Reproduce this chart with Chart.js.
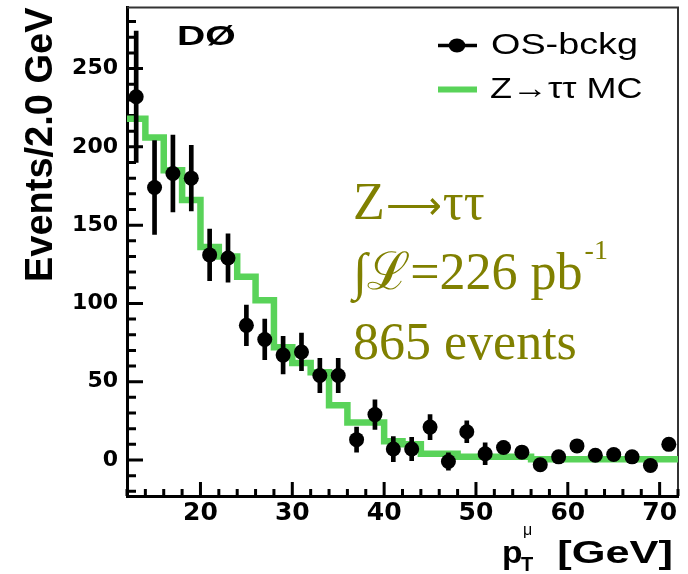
<!DOCTYPE html>
<html>
<head>
<meta charset="utf-8">
<title>Z to tau tau - OS-bckg muon pT</title>
<script src="https://cdn.jsdelivr.net/npm/chart.js@4.4.1/dist/chart.umd.min.js"></script>
<style>
    html, body { margin: 0; padding: 0; background: #fff; }
    #wrap { width: 688px; height: 574px; }
</style>
</head>
<body>
<div id="wrap"><canvas id="plot"></canvas></div>
<script>
"use strict";

// histogram bin edges (2 GeV bins) and bin centres of the data points
var binEdges   = [12, 14, 16, 18, 20, 22, 24, 26, 28, 30, 32, 34, 36, 38, 40, 42,
                  44, 46, 48, 50, 52, 54, 56, 58, 60, 62, 64, 66, 68, 70, 72];
var binCentres = [13, 15, 17, 19, 21, 23, 25, 27, 29, 31, 33, 35, 37, 39, 41, 43,
                  45, 47, 49, 51, 53, 55, 57, 59, 61, 63, 65, 67, 69, 71];

// OS minus background, with its errors
var osBckg    = [232, 174, 183, 180, 131, 129, 86, 77, 67, 69, 54, 54, 13, 29, 7, 7,
                 21, -1, 18, 4, 8, 5, -3, 2, 9, 3, 3.5, 2, -3.5, 10];
var osBckgErr = [42, 30, 24.5, 21, 16.5, 15.5, 13, 13, 12, 12, 11, 11, 8, 9.5, 8, 7.5,
                 8, 5.5, 7, 7, 4, 4, 3, 3, 3, 3, 3, 3, 3, 3];

// Z -> tau tau Monte Carlo, one value per bin
var zTauTauMC = [218, 206, 185, 166, 136, 130, 117, 102, 72, 62, 56, 35, 24, 24, 12, 10,
                 4, 4, 2, 2, 2, 2, 0.5, 0.5, 0.5, 0.5, 0.5, 0.5, 0.5, 0.5];

// axis ticks
var xRange = [12, 72], xMinorStep = 2, xLabelStep = 10;
var yRange = [-23, 289], yMinorStep = 10, yLabelStep = 50;

var GREEN = "#59d359";
var OLIVE = "#808000";
var SANS  = '"Liberation Sans", Arial, sans-serif';
var SERIF = '"Liberation Serif", "Times New Roman", serif';


// text stretched along x only
function wideText(ctx, text, x, y, sx, align) {
    ctx.save();
    ctx.translate(x, y);
    ctx.scale(sx, 1);
    ctx.textAlign = align || "left";
    ctx.fillText(text, 0, 0);
    ctx.restore();
}


// thin top/right frame and inward tick marks
var frameTicks = {
    id: "frameTicks",
    beforeDatasetsDraw: function(chart) {
        var ctx = chart.ctx, a = chart.chartArea, sx = chart.scales.x, sy = chart.scales.y;
        ctx.save();
        ctx.strokeStyle = "#333";
        ctx.lineWidth = 2;
        ctx.beginPath();
        ctx.moveTo(a.left, a.top);
        ctx.lineTo(a.right, a.top);
        ctx.lineTo(a.right, a.bottom);
        ctx.stroke();

        ctx.strokeStyle = "#000";
        ctx.lineWidth = 3;
        ctx.beginPath();
        sy.ticks.forEach(function(t) {
            var y = sy.getPixelForValue(t.value);
            ctx.moveTo(a.left, y);
            ctx.lineTo(a.left + (t.value % yLabelStep === 0 ? 16 : 9), y);
        });
        sx.ticks.forEach(function(t) {
            var x = sx.getPixelForValue(t.value);
            ctx.moveTo(x, a.bottom);
            ctx.lineTo(x, a.bottom - (t.value % xLabelStep === 0 ? 14 : 7));
        });
        ctx.stroke();
        ctx.restore();
    }
};


// legend, experiment tag, annotation and x title
var annotations = {
    id: "annotations",
    afterDraw: function(chart) {
        var ctx = chart.ctx, a = chart.chartArea;
        ctx.save();
        ctx.fillStyle = "#000";
        ctx.textBaseline = "alphabetic";

        // DØ
        ctx.font = "bold 27px " + SANS;
        wideText(ctx, "D\u00d8", a.left + 50, a.top + 37, 1.45);

        // legend
        var lx = a.right - 240, ly = a.top + 38;
        ctx.strokeStyle = "#000";
        ctx.lineWidth = 3.5;
        ctx.beginPath();
        ctx.moveTo(lx, ly);
        ctx.lineTo(lx + 39, ly);
        ctx.stroke();
        ctx.beginPath();
        ctx.ellipse(lx + 19, ly, 8.3, 7, 0, 0, 2 * Math.PI);
        ctx.fill();
        ctx.strokeStyle = GREEN;
        ctx.lineWidth = 6;
        ctx.beginPath();
        ctx.moveTo(lx, ly + 44);
        ctx.lineTo(lx + 39, ly + 44);
        ctx.stroke();

        ctx.font = "30px " + SANS;
        wideText(ctx, chart.data.datasets[0].label, lx + 53, ly + 8.5, 1.26);
        wideText(ctx, chart.data.datasets[2].label, lx + 52, ly + 52.5, 1.2);

        // Z -> tau tau annotation (thin long arrow in a smaller size)
        var ox = a.left + 226, by = a.top + 211;
        ctx.fillStyle = OLIVE;
        ctx.font = "52px " + SERIF;
        ctx.fillText("Z", ox, by);
        var zw = ctx.measureText("Z").width;
        ctx.font = "39px " + SERIF;
        ctx.fillText("\u27f6", ox + zw + 1, by);
        var aw = ctx.measureText("\u27f6").width;
        ctx.font = "52px " + SERIF;
        ctx.fillText("\u03c4\u03c4", ox + zw + aw + 2, by);

        var lumi = "\u222b\u2112=226 pb";
        ctx.fillText(lumi, ox, a.top + 281);
        var w = ctx.measureText(lumi).width;
        ctx.font = "28px " + SERIF;
        ctx.fillText("-1", ox + w + 2, a.top + 251);
        ctx.font = "52px " + SERIF;
        ctx.fillText("865 events", ox, a.top + 351);

        // x title: p_T^mu [GeV]
        var ty = a.bottom + 66.5;
        ctx.fillStyle = "#000";
        ctx.font = "bold 31px " + SANS;
        wideText(ctx, "p", a.right - 176, ty, 1.08);
        wideText(ctx, "[GeV]", a.right - 5, ty, 1.4, "right");
        ctx.font = "bold 20px " + SANS;
        ctx.fillText("T", a.right - 157, ty + 8);
        ctx.font = "16px " + SANS;
        ctx.fillText("\u03bc", a.right - 155, ty - 28);
        ctx.restore();
    }
};


var pointData = binCentres.map(function(x, i) { return { x: x, y: osBckg[i] }; });
var errorData = binCentres.map(function(x, i) {
    return { x: x, y: [osBckg[i] - osBckgErr[i], osBckg[i] + osBckgErr[i]] };
});
// step line needs the closing right edge, holding the last bin value
var mcData = binEdges.map(function(x, i) {
    return { x: x, y: zTauTauMC[Math.min(i, zTauTauMC.length - 1)] };
});

new Chart(document.getElementById("plot"), {
    type: "scatter",
    data: {
        datasets: [{
            type: "scatter",
            label: "OS-bckg",
            data: pointData,
            backgroundColor: "#000",
            borderWidth: 0,
            pointRadius: 7.5,
            pointHoverRadius: 7.5,
            order: 0
        }, {
            type: "bar",
            label: "errors",
            data: errorData,
            backgroundColor: "#000",
            borderWidth: 0,
            barThickness: 4,
            order: 1
        }, {
            type: "line",
            label: "Z\u2192\u03c4\u03c4 MC",
            data: mcData,
            stepped: true,
            borderColor: GREEN,
            borderWidth: 6.5,
            borderCapStyle: "butt",
            borderJoinStyle: "miter",
            pointRadius: 0,
            fill: false,
            order: 2
        }]
    },
    options: {
        responsive: true,
        maintainAspectRatio: false,
        animation: false,
        layout: { padding: { top: 7, right: 10, left: 0, bottom: 0 } },
        plugins: {
            legend: { display: false },
            tooltip: { enabled: false }
        },
        scales: {
            x: {
                type: "linear",
                min: xRange[0],
                max: xRange[1],
                offset: false,
                grid: { display: false, drawTicks: false },
                border: { display: true, color: "#000", width: 3 },
                ticks: {
                    stepSize: xMinorStep,
                    includeBounds: false,
                    autoSkip: false,
                    maxRotation: 0,
                    padding: 2,
                    color: "#000",
                    font: { family: '"DejaVu Sans", sans-serif', weight: "bold", size: 25 },
                    callback: function(v) { return v % xLabelStep === 0 ? String(v) : ""; }
                },
                afterFit: function(s) {
                    s.height = 78;
                    s.paddingLeft = 0;
                    s.paddingRight = 0;
                }
            },
            y: {
                type: "linear",
                min: yRange[0],
                max: yRange[1],
                grid: { display: false, drawTicks: false },
                border: { display: true, color: "#000", width: 3 },
                ticks: {
                    stepSize: yMinorStep,
                    includeBounds: false,
                    autoSkip: false,
                    padding: 9,
                    color: "#000",
                    font: { family: '"DejaVu Sans", sans-serif', weight: "bold", size: 22 },
                    callback: function(v) { return v % yLabelStep === 0 ? String(v) : ""; }
                },
                title: {
                    display: true,
                    text: "Events/2.0 GeV",
                    align: "end",
                    color: "#000",
                    padding: { top: 19, bottom: 0 },
                    font: { family: SANS, weight: "bold", size: 38 }
                },
                afterFit: function(s) {
                    s.width = 127;
                    s.paddingTop = 0;
                    s.paddingBottom = 0;
                }
            }
        }
    },
    plugins: [frameTicks, annotations]
});
</script>
</body>
</html>
